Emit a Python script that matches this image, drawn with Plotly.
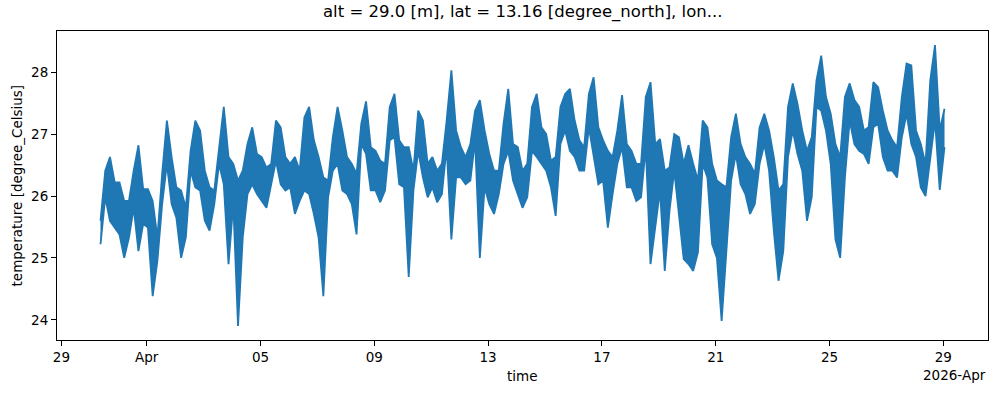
import pandas as pd
import plotly.graph_objects as go

# --- data ---
# The original series is so dense that it draws a solid band; it is recorded here as the
# band's top and bottom edge, every 4 hours.
start_time = "2026-03-30 09:00"
step = "4h"
band_top = [
    25.60, 26.41, 26.63, 26.22, 26.22, 25.92, 25.92, 26.41, 26.82, 26.11,
    26.11, 25.92, 25.33, 26.36, 27.22, 26.63, 26.14, 26.09, 25.81, 26.73,
    27.22, 27.06, 26.41, 26.14, 26.09, 26.79, 27.44, 26.63, 26.52, 26.25,
    26.41, 26.84, 27.11, 26.68, 26.63, 26.46, 26.52, 27.22, 27.11, 26.63,
    26.52, 26.63, 26.41, 27.27, 27.44, 26.90, 26.63, 26.30, 26.25, 26.95,
    27.44, 27.06, 26.63, 26.52, 26.36, 27.17, 27.53, 26.79, 26.73, 26.57,
    26.52, 27.44, 27.65, 26.90, 26.79, 26.79, 26.41, 27.38, 27.22, 26.52,
    26.63, 26.41, 26.52, 27.22, 28.03, 27.06, 26.79, 26.63, 26.84, 27.38,
    27.55, 27.06, 26.68, 26.41, 26.41, 27.17, 27.73, 26.84, 26.79, 26.41,
    26.52, 27.44, 27.65, 27.11, 27.00, 26.57, 26.63, 27.44, 27.65, 27.73,
    27.22, 26.90, 26.79, 27.65, 27.92, 27.11, 26.90, 26.73, 26.63, 27.06,
    27.63, 26.84, 26.73, 26.52, 26.52, 27.60, 27.84, 26.84, 26.92, 26.41,
    26.46, 27.00, 26.95, 26.52, 26.82, 26.52, 26.25, 27.22, 27.11, 26.52,
    26.25, 26.19, 26.14, 26.95, 27.33, 26.84, 26.63, 26.52, 26.36, 27.11,
    27.33, 27.06, 26.63, 26.09, 26.19, 27.44, 27.82, 27.49, 27.06, 26.73,
    26.95, 27.87, 28.27, 27.60, 27.33, 26.84, 26.63, 27.60, 27.82, 27.55,
    27.44, 27.06, 27.11, 27.84, 27.76, 27.38, 27.06, 26.90, 26.79, 27.60,
    28.14, 28.11, 27.06, 26.84, 26.52, 27.87, 28.44, 27.06, 27.41,
]
band_bottom = [
    25.22, 25.98, 25.60, 25.49, 25.38, 25.00, 25.33, 25.81, 25.11, 25.55,
    25.49, 24.38, 24.95, 25.87, 26.52, 25.87, 25.65, 25.00, 25.33, 26.41,
    26.14, 26.09, 25.60, 25.44, 25.87, 26.52, 26.19, 24.90, 25.87, 23.90,
    25.33, 26.03, 26.19, 26.03, 25.92, 25.81, 26.19, 26.57, 26.19, 26.09,
    26.14, 25.71, 25.92, 26.09, 26.03, 25.71, 25.33, 24.38, 25.98, 26.41,
    26.52, 26.09, 26.03, 25.87, 25.38, 26.84, 26.68, 26.09, 26.09, 25.90,
    26.09, 26.90, 26.95, 26.19, 26.14, 24.69, 26.09, 26.73, 26.30, 25.98,
    26.14, 25.90, 26.03, 26.79, 25.30, 26.30, 26.30, 26.19, 26.25, 26.90,
    25.00, 26.14, 25.87, 25.71, 26.03, 26.52, 26.73, 26.25, 26.03, 25.81,
    25.98, 26.73, 26.63, 26.52, 26.41, 26.14, 25.68, 26.84, 27.06, 26.73,
    26.63, 26.41, 26.41, 27.11, 26.68, 26.19, 26.25, 25.49, 26.03, 26.52,
    26.79, 26.14, 26.14, 25.92, 25.98, 26.79, 24.90, 25.49, 26.09, 24.79,
    25.76, 26.41, 25.71, 24.98, 24.90, 24.79, 25.09, 26.52, 26.30, 25.22,
    25.00, 23.98, 25.11, 26.25, 26.68, 26.19, 26.03, 25.71, 25.87, 26.52,
    26.84, 26.41, 25.44, 24.63, 25.11, 26.63, 27.06, 26.68, 26.41, 25.60,
    25.98, 27.44, 27.38, 27.06, 26.52, 25.30, 25.00, 26.30, 27.22, 26.84,
    26.73, 26.68, 26.52, 27.11, 27.17, 26.63, 26.41, 26.41, 26.30, 26.95,
    27.33, 26.84, 26.63, 26.14, 26.00, 26.63, 27.22, 26.10, 26.79,
]
tick_dates = ["2026-03-29", "2026-04-01", "2026-04-05", "2026-04-09", "2026-04-13",
              "2026-04-17", "2026-04-21", "2026-04-25", "2026-04-29"]
tick_labels = ["29", "Apr", "05", "09", "13", "17", "21", "25", "29"]
y_ticks = [24, 25, 26, 27, 28]
title_text = "alt = 29.0 [m], lat = 13.16 [degree_north], lon..."
x_title = "time"
y_title = "temperature [degree_Celsius]"
offset_text = "2026-Apr"

times = pd.date_range(start=start_time, periods=len(band_top), freq=step)

# matplotlib-like 5% margins around the data
t0 = times[0] - pd.Timedelta("1h")
t1 = times[-1] + pd.Timedelta("1h")
pad_t = (t1 - t0) * 0.05
vmin, vmax = min(band_bottom), max(band_top)
pad_v = (vmax - vmin) * 0.05

FONT = "DejaVu Sans, sans-serif"
BLUE = "#1f77b4"

fig = go.Figure()
fig.add_trace(go.Scatter(
    x=times, y=band_bottom, mode="lines",
    line=dict(color=BLUE, width=1.8),
    showlegend=False, hoverinfo="skip",
))
fig.add_trace(go.Scatter(
    x=times, y=band_top, mode="lines",
    line=dict(color=BLUE, width=1.8),
    fill="tonexty", fillcolor=BLUE,
    showlegend=False, hoverinfo="skip",
))

axis_common = dict(
    showline=True, linecolor="black", linewidth=1, mirror=True,
    ticks="outside", ticklen=5, tickwidth=1, tickcolor="black",
    showgrid=False, zeroline=False,
    tickfont=dict(family=FONT, size=13.5, color="black"),
)

fig.update_layout(
    width=997, height=393,
    margin=dict(l=57, r=9, t=31, b=53),
    paper_bgcolor="white", plot_bgcolor="white",
    font=dict(family=FONT, color="black"),
    xaxis=dict(
        range=[t0 - pad_t, t1 + pad_t],
        tickmode="array", tickvals=pd.to_datetime(tick_dates), ticktext=tick_labels,
        **axis_common,
    ),
    yaxis=dict(
        range=[vmin - pad_v, vmax + pad_v],
        tickmode="array", tickvals=y_ticks, ticktext=[str(v) for v in y_ticks],
        **axis_common,
    ),
    annotations=[
        dict(text=title_text, xref="paper", yref="paper", x=0.5, y=1.0615,
             xanchor="center", yanchor="middle", showarrow=False,
             font=dict(family=FONT, size=16.5, color="black")),
        dict(text=x_title, xref="paper", yref="paper", x=0.5, y=-0.117,
             xanchor="center", yanchor="middle", showarrow=False,
             font=dict(family=FONT, size=13.5, color="black")),
        dict(text=offset_text, xref="paper", yref="paper", x=1.0, y=-0.113,
             xanchor="right", yanchor="middle", showarrow=False,
             font=dict(family=FONT, size=13.5, color="black")),
        dict(text=y_title, xref="paper", yref="paper", x=-0.043, y=0.5,
             xanchor="center", yanchor="middle", textangle=-90, showarrow=False,
             font=dict(family=FONT, size=13.5, color="black")),
    ],
)

# remove the page's default 8px body margin so the figure fills the window exactly
fig.write_html("out.html", config={"displayModeBar": False},
               post_script="document.body.style.margin='0';")
